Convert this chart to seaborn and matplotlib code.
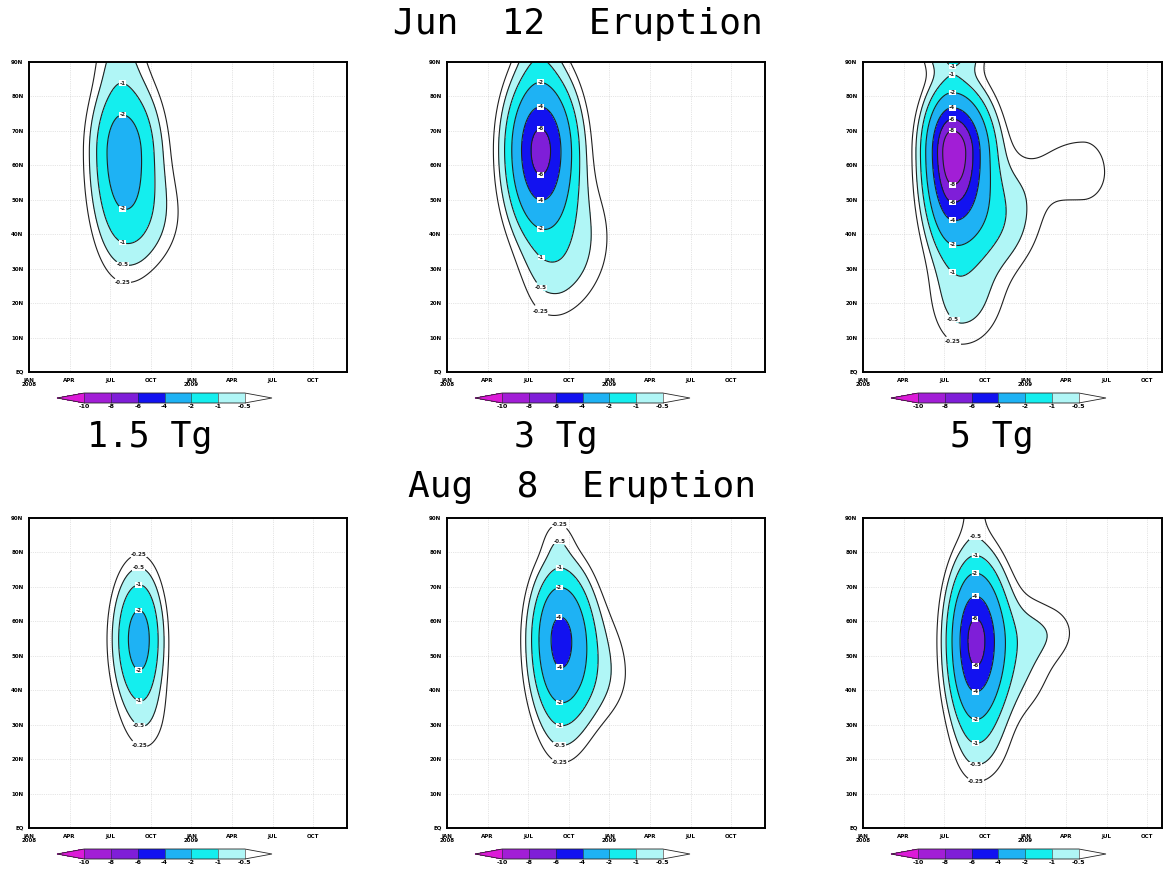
import numpy as np
import matplotlib
matplotlib.use("Agg")
import matplotlib.pyplot as plt
from matplotlib.colors import ListedColormap, BoundaryNorm
from matplotlib.lines import Line2D
import matplotlib.cm as cm
import seaborn as sns

# contour / colour levels
levels = [-10, -8, -6, -4, -2, -1, -0.5]
line_levels = [-10, -8, -6, -4, -2, -1, -0.5, -0.25]
fill_colors = ["#a21ed6", "#7f1ed8", "#1212f0", "#1eb2f4", "#14eeee", "#b0f6f6"]
under_color = "#dc1ad8"

# axis labels
x_ticks = [0, 3, 6, 9, 12, 15, 18, 21]
x_labels = ["JAN\n2008", "APR", "JUL", "OCT", "JAN\n2009", "APR", "JUL", "OCT"]
y_ticks = [0, 10, 20, 30, 40, 50, 60, 70, 80, 90]
y_labels = ["EQ", "10N", "20N", "30N", "40N", "50N", "60N", "70N", "80N", "90N"]

# anomaly blobs:
# [amplitude, month, lat, width left, width right, width south, width north]
jun_15tg = [[-2.9, 6.9, 64, 1.3, 1.55, 16.5, 12],
            [-0.45, 8.5, 45, 1.5, 2.0, 10, 10],
            [-0.45, 6.7, 92, 1.2, 1.2, 8, 8]]
jun_3tg = [[-6.8, 6.9, 64.5, 1.35, 1.45, 13.5, 12],
           [-0.6, 8.8, 40, 1.6, 2.2, 12, 12],
           [-0.33, 7.4, 29, 1.3, 2.0, 11, 8],
           [-0.45, 6.8, 94, 1.0, 1.0, 8, 8]]
jun_5tg = [[-9.8, 6.6, 64, 1.1, 1.5, 14, 9.5],
           [-1.0, 9.3, 45, 2.0, 2.2, 10, 10],
           [-0.65, 7.3, 22, 1.5, 2.0, 10, 10],
           [-1.4, 6.7, 96, 1.3, 1.3, 6, 6],
           [-0.4, 16.3, 58, 3.0, 1.6, 8, 9]]
aug_15tg = [[-2.6, 8.15, 55, 1.1, 1.0, 11.5, 11.3],
            [-0.3, 8.6, 32, 1.2, 1.3, 9, 10]]
aug_3tg = [[-4.5, 8.35, 55, 1.2, 1.35, 13.5, 11.5],
           [-0.6, 10.5, 45, 1.8, 2.0, 10, 12],
           [-0.15, 8.5, 25, 1.2, 1.5, 8, 8],
           [-0.28, 8.2, 83.5, 0.8, 0.8, 5, 5]]
aug_5tg = [[-6.6, 8.3, 54.5, 1.1, 1.25, 14.3, 12.5],
           [-0.6, 11.0, 50, 2.0, 2.0, 12, 12],
           [-0.28, 14.0, 57, 2.5, 1.5, 6, 6],
           [-0.25, 8.5, 22, 1.2, 1.8, 8, 8],
           [-0.3, 8.2, 95, 0.8, 0.8, 8, 8]]

panels = [jun_15tg, jun_3tg, jun_5tg, aug_15tg, aug_3tg, aug_5tg]
sub_titles = ["1.5 Tg", "3 Tg", "5 Tg"]

months = np.arange(0, 24.01, 0.1)
lats = np.arange(0, 90.01, 0.5)


def build_field(blobs):
    T, L = np.meshgrid(months, lats)
    z = np.zeros_like(T)
    for amp, t0, l0, stl, str_, sls, sln in blobs:
        st = np.where(T < t0, stl, str_)
        sl = np.where(L < l0, sls, sln)
        z += amp * np.exp(-0.5 * (((T - t0) / st) ** 2 + ((L - l0) / sl) ** 2))
    return z


def label_spots(z, t0):
    # where each contour crosses the column through the main centre
    j = np.argmin(np.abs(months - t0))
    col = z[:, j]
    spots = []
    for lev in line_levels:
        s = np.sign(col - lev)
        for k in np.where(np.diff(s) != 0)[0]:
            spots.append((months[j], lats[k]))
    return spots


sns.set_style("white")
plt.rcParams["font.family"] = ["DejaVu Sans"]
plt.rcParams["text.color"] = "black"
plt.rcParams["xtick.color"] = "black"
plt.rcParams["ytick.color"] = "black"

W, H = 1163, 874
fig = plt.figure(figsize=(W / 100, H / 100), dpi=100)

col_x = [29, 447, 863]
row_y = [62, 518]
ax_w, ax_h = 318, 310


def px_axes(x0, y0, w, h):
    return fig.add_axes([x0 / W, 1 - (y0 + h) / H, w / W, h / H])


for i, blobs in enumerate(panels):
    r, c = divmod(i, 3)
    cmap = ListedColormap(fill_colors)
    cmap.set_under(under_color)
    cmap.set_over("white")
    norm = BoundaryNorm(levels, cmap.N)

    ax = px_axes(col_x[c], row_y[r], ax_w, ax_h)
    z = build_field(blobs)
    ax.contourf(months, lats, z, levels=levels, cmap=cmap, norm=norm, extend="min")
    cs = ax.contour(months, lats, z, levels=line_levels, colors="#202020",
                    linewidths=0.8, linestyles="solid")
    lbls = ax.clabel(cs, fmt="%g", fontsize=4, inline=True, inline_spacing=1,
                     manual=label_spots(z, blobs[0][1]))
    for t in lbls:
        t.set_rotation(0)
        t.set_fontweight("bold")
        t.set_bbox(dict(facecolor="white", edgecolor="none", pad=0.3))
    ax.set_xlim(0, 23.5)
    ax.set_ylim(0, 90)
    ax.set_xticks(x_ticks)
    ax.set_xticklabels(x_labels, fontsize=4, fontweight="bold", linespacing=0.9)
    ax.set_yticks(y_ticks)
    ax.set_yticklabels(y_labels, fontsize=4, fontweight="bold")
    ax.tick_params(length=3, width=0.8, pad=1, direction="out")
    ax.grid(True, color="#cccccc", lw=0.5, ls=":")
    for s in ax.spines.values():
        s.set_linewidth(1.4)
        s.set_color("black")

    cax = px_axes(col_x[c] + 28, row_y[r] + ax_h + 21, 215, 10)
    sm = cm.ScalarMappable(cmap=cmap, norm=norm)
    cb = fig.colorbar(sm, cax=cax, orientation="horizontal", extend="both",
                      extendfrac=0.17, drawedges=True)
    cb.set_ticks(levels, labels=[f"{v:g}" for v in levels])
    cb.ax.tick_params(length=0, pad=1, labelsize=4.5)
    for t in cb.ax.get_xticklabels():
        t.set_fontweight("bold")
    cb.outline.set_linewidth(0.6)
    cb.dividers.set_linewidth(0.4)

# right border of the clipped third column
for y0 in row_y:
    fig.add_artist(Line2D([1161.5 / W, 1161.5 / W], [1 - (y0 + ax_h) / H, 1 - y0 / H],
                          color="black", lw=1.4))

title_font = dict(family="DejaVu Sans Mono", fontsize=26, ha="center", va="center")
fig.text(578 / W, 1 - 24 / H, "Jun  12  Eruption", **title_font)
fig.text(582 / W, 1 - 487 / H, "Aug  8  Eruption", **title_font)
for x, s in zip([150, 556, 992], sub_titles):
    fig.text(x / W, 1 - 437 / H, s, family="DejaVu Sans Mono", fontsize=25,
             ha="center", va="center")

fig.savefig("out.png", dpi=100)
